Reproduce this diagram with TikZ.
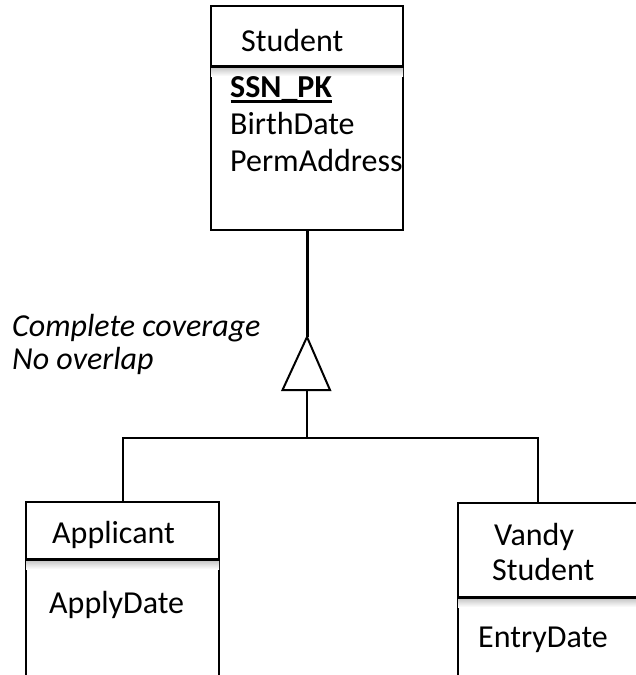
\documentclass[tikz,border=0pt]{standalone}
\usepackage{fontspec}
\setmainfont{Carlito}
\usetikzlibrary{calc}
\begin{document}
\begin{tikzpicture}[x=1pt,y=-1pt,
  font=\fontsize{32}{38}\selectfont,
  entity/.style={draw, line width=2pt, inner sep=0pt},
  divider/.style={line width=3pt},
  shadow/.style={top color=black!22, bottom color=white},
  txt/.style={anchor=base west, inner sep=0pt},
  conn/.style={line width=2pt},
  trunk/.style={line width=3pt}]
\useasboundingbox (0,0) rectangle (636,675);
\fill[white] (0,0) rectangle (636,675);
\clip (0,0) rectangle (636,675);

% entity boxes
\node[entity, minimum width=192pt, minimum height=224pt] (stu) at (307,118) {};
\node[entity, minimum width=193pt, minimum height=208pt] (app) at (122.5,606) {};
\node[entity, minimum width=202pt, minimum height=207pt] (vs) at (559,606.5) {};

% header dividers with soft shadows
\shade[shadow] ($(stu.north west)+(1,62.5)$) rectangle ($(stu.north east)+(-1,71)$);
\draw[divider] ($(stu.north west)+(0,61)$) -- ($(stu.north east)+(0,61)$);
\shade[shadow] ($(app.north west)+(1,59.5)$) rectangle ($(app.north east)+(-1,68)$);
\draw[divider] ($(app.north west)+(0,58)$) -- ($(app.north east)+(0,58)$);
\shade[shadow] ($(vs.north west)+(1,96.5)$) rectangle ($(vs.north east)+(-1,105)$);
\draw[divider] ($(vs.north west)+(0,95)$) -- ($(vs.north east)+(0,95)$);

% Student
\node[txt] (stuname) at (241,51) {Student};
\node[txt] (ssn) at (230,97) {\bfseries SSN\_PK};
\draw[line width=3pt] ($(ssn.base west)+(0.5,4)$) -- ($(ssn.base east)+(0,4)$);
\node[txt] (bd) at (230,134) {BirthDate};
\node[txt] (pa) at (230,171) {PermAddress};

% Applicant
\node[txt] (appname) at (52,543) {Applicant};
\node[txt] (apd) at (49,613) {ApplyDate};

% Vandy Student
\node[txt] (v1) at (494,545) {Vandy};
\node[txt] (v2) at (492,580) {Student};
\node[txt] (ed) at (478,647) {EntryDate};

% constraint note
\node[txt] (c1) at (12,336.5) {\itshape Complete coverage};
\node[txt] (c2) at (12,369) {\itshape No overlap};

% generalization connector
\coordinate (apex) at (307,337);
\coordinate (tribase) at (307,390);
\coordinate (bus) at (307,438.3);
\coordinate (vtop) at (538.3,503);
\draw[trunk] (stu.south) -- (apex);
\draw[conn, line join=miter] (apex) -- ($(tribase)+(-24.5,0)$) -- ($(tribase)+(23,0)$) -- cycle;
\draw[conn] (tribase) -- (bus);
\draw[conn] (app.north) |- (vtop |- bus) -- (vtop);
\end{tikzpicture}
\end{document}
